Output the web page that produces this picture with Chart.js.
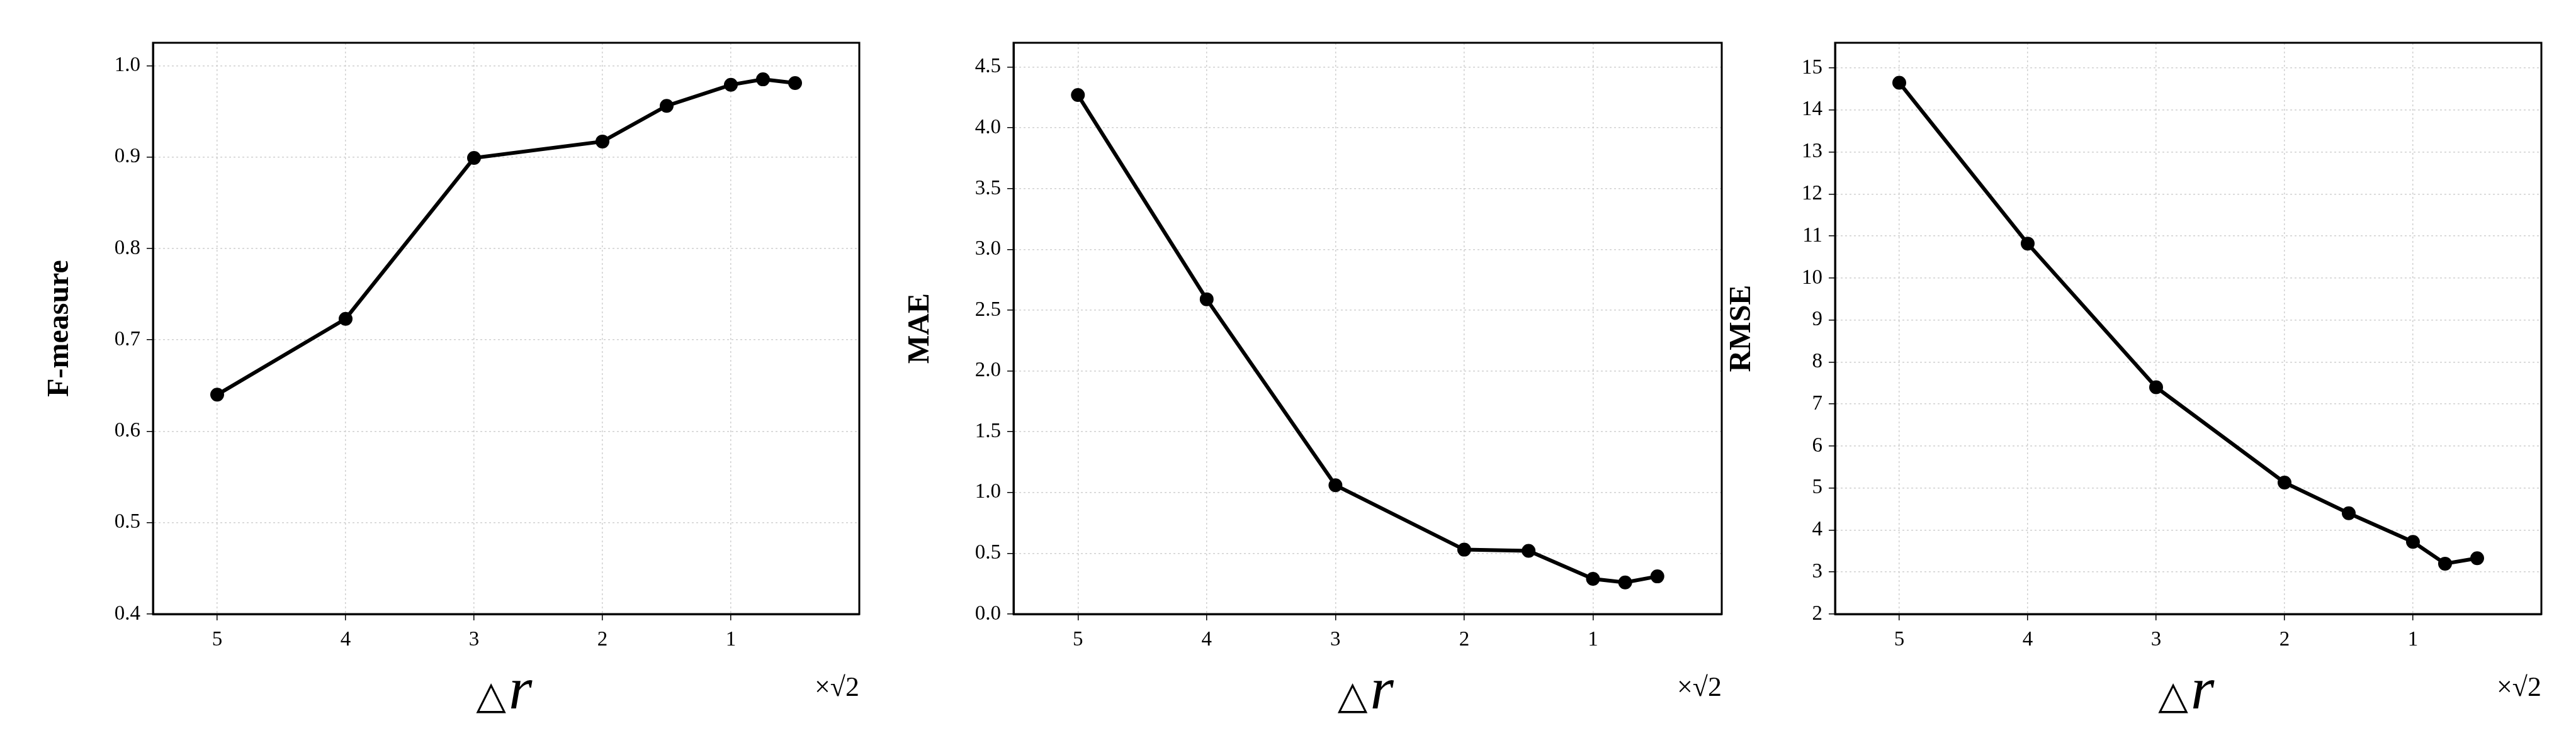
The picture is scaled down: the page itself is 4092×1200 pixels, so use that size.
<!DOCTYPE html>
<html><head><meta charset="utf-8">
<script src="https://cdn.jsdelivr.net/npm/chart.js@4"></script>
<style>
body{margin:0;background:#fff;width:4092px;height:1200px;position:relative;overflow:hidden}
.box{position:absolute;top:0;height:1200px}
</style></head><body>
<div class="box" style="left:63px;width:1322px"><canvas id="c1"></canvas></div>
<div class="box" style="left:1430px;width:1325px"><canvas id="c2"></canvas></div>
<div class="box" style="left:2735px;width:1322px"><canvas id="c3"></canvas></div>
<script>
// step sizes (x-axis, reversed)
const deltaR = [5, 4, 3, 2, 1.5, 1, 0.75, 0.5];
const fMeasure = [0.640, 0.723, 0.899, 0.917, 0.956, 0.979, 0.985, 0.981];
const mae = [4.27, 2.59, 1.06, 0.53, 0.52, 0.29, 0.26, 0.31];
const rmse = [14.65, 10.82, 7.40, 5.13, 4.40, 3.72, 3.20, 3.33];
const xTicks = [5, 4, 3, 2, 1];

const tickFont = {family: 'Liberation Serif', size: 33};

// black frame around the plot area
Chart.register({id: 'frame', afterDraw(chart) {
    const ctx = chart.ctx, a = chart.chartArea;
    ctx.save(); ctx.strokeStyle = '#000'; ctx.lineWidth = 3;
    ctx.strokeRect(a.left, a.top, a.right - a.left, a.bottom - a.top);
    ctx.restore();
}});

// draws the Δr label and ×√2 note under each plot
const xLabel = {
    id: 'xLabel',
    afterDraw(chart) {
        const ctx = chart.ctx, a = chart.chartArea;
        const cx = (a.left + a.right) / 2, y = a.bottom + 150;
        ctx.save();
        ctx.fillStyle = '#000';
        ctx.textBaseline = 'alphabetic';
        ctx.font = '62px DejaVu Sans';
        ctx.textAlign = 'right';
        ctx.fillText('\u25B3', cx, y);
        ctx.font = 'italic 96px Liberation Serif';
        ctx.textAlign = 'left';
        ctx.fillText('r', cx + 4, y);
        ctx.font = '44px Liberation Serif';
        ctx.textAlign = 'right';
        ctx.fillText('\u00D7\u221A2', a.right, a.bottom + 130);
        ctx.restore();
    }
};

function makeChart(id, values, label, yMin, yMax, step, decimals) {
    new Chart(document.getElementById(id), {
        type: 'line',
        data: {
            datasets: [{
                data: deltaR.map((x, i) => ({x: x, y: values[i]})),
                borderColor: '#000',
                backgroundColor: '#000',
                borderWidth: 6,
                pointRadius: 8,
                tension: 0,
            }]
        },
        options: {
            responsive: true,
            maintainAspectRatio: false,
            animation: false,
            layout: {padding: {top: 68, right: 20}},
            scales: {
                x: {
                    type: 'linear',
                    reverse: true,
                    min: 0, max: 5.5,
                    afterBuildTicks: s => { s.ticks = xTicks.map(v => ({value: v})); },
                    afterFit: s => { s.height = 224; },
                    ticks: {font: tickFont, color: '#000', padding: 12},
                    grid: {color: '#d0d0d0', lineWidth: 1.5, tickColor: '#000', tickBorderDash: [], tickLength: 10},
                    border: {color: '#000', width: 3, dash: [3, 4]}
                },
                y: {
                    min: yMin, max: yMax,
                    afterBuildTicks: s => {
                        const t = [];
                        for (let v = yMin; v <= yMax + 1e-9; v += step) t.push({value: +v.toFixed(4)});
                        s.ticks = t;
                    },
                    afterFit: s => { s.width = 180; },
                    ticks: {font: tickFont, color: '#000', padding: 10, callback: v => v.toFixed(decimals)},
                    title: {display: true, text: label, color: '#000', font: {family: 'Liberation Serif', size: 48, weight: 'bold'}},
                    grid: {color: '#d0d0d0', lineWidth: 1.5, tickColor: '#000', tickBorderDash: [], tickLength: 10},
                    border: {color: '#000', width: 3, dash: [3, 4]}
                }
            },
            plugins: {legend: {display: false}, tooltip: {enabled: false}}
        },
        plugins: [xLabel]
    });
}

makeChart('c1', fMeasure, 'F-measure', 0.4, 1.025, 0.1, 1);
makeChart('c2', mae, 'MAE', 0, 4.7, 0.5, 1);
makeChart('c3', rmse, 'RMSE', 2, 15.6, 1, 0);
</script>
</body></html>
